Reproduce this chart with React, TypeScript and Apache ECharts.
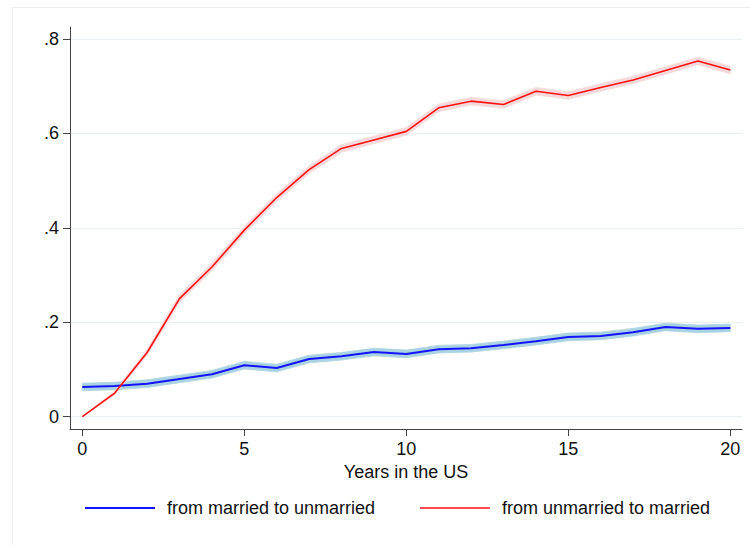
import React, { useEffect, useRef } from "react";
import * as echarts from "echarts";

const years = [0, 1, 2, 3, 4, 5, 6, 7, 8, 9, 10, 11, 12, 13, 14, 15, 16, 17, 18, 19, 20];

const blueName = "from married to unmarried";
const redName = "from unmarried to married";

const blueMean = [0.063, 0.065, 0.070, 0.080, 0.090, 0.109, 0.103, 0.122, 0.128, 0.137, 0.133, 0.143, 0.145, 0.152, 0.160, 0.169, 0.171, 0.179, 0.190, 0.186, 0.188];
const blueLow = [0.055, 0.057, 0.062, 0.072, 0.082, 0.101, 0.095, 0.114, 0.120, 0.129, 0.125, 0.135, 0.137, 0.144, 0.152, 0.161, 0.163, 0.171, 0.182, 0.178, 0.180];
const blueHigh = [0.071, 0.073, 0.078, 0.088, 0.098, 0.117, 0.111, 0.130, 0.136, 0.145, 0.141, 0.151, 0.153, 0.160, 0.168, 0.177, 0.179, 0.187, 0.198, 0.194, 0.196];

const redMean = [0.0, 0.05, 0.136, 0.25, 0.317, 0.395, 0.464, 0.523, 0.568, 0.586, 0.604, 0.654, 0.668, 0.661, 0.689, 0.680, 0.697, 0.713, 0.733, 0.753, 0.734];
const redLow = [0.0, 0.046, 0.130, 0.242, 0.309, 0.387, 0.456, 0.515, 0.560, 0.578, 0.596, 0.646, 0.660, 0.653, 0.681, 0.672, 0.689, 0.705, 0.725, 0.745, 0.726];
const redHigh = [0.0, 0.054, 0.142, 0.258, 0.325, 0.403, 0.472, 0.531, 0.576, 0.594, 0.612, 0.662, 0.676, 0.669, 0.697, 0.688, 0.705, 0.721, 0.741, 0.761, 0.742];

const xTicks = [0, 5, 10, 15, 20];
const yTicks = [0, 0.2, 0.4, 0.6, 0.8];
const yTickLabels = ["0", ".2", ".4", ".6", ".8"];
const xTitle = "Years in the US";

const FONT = "'Liberation Sans', Arial, Helvetica, sans-serif";
const BLUE = "#1414ff";
const RED = "#ff1010";

export default function App() {
  const ref = useRef<HTMLDivElement>(null);
  useEffect(() => {
    if (!ref.current) return;
    const chart = echarts.init(ref.current, undefined, { renderer: "svg" });
    const pair = (arr: number[]) => years.map((x, i) => [x, arr[i]]);

    const band = (name: string, lo: number[], hi: number[], color: string) => ({
      name,
      type: "custom",
      silent: true,
      z: 1,
      data: years.map((x, i) => [x, lo[i], hi[i]]),
      encode: { x: 0, y: [1, 2] },
      renderItem: (params: any, api: any) => {
        if (params.dataIndex !== 0) return null;
        const upper = years.map((x, i) => api.coord([x, hi[i]]));
        const lower = years.map((x, i) => api.coord([x, lo[i]])).reverse();
        return {
          type: "polygon",
          shape: { points: upper.concat(lower) },
          style: { fill: color, stroke: color, lineWidth: 0.8 },
          silent: true,
        };
      },
    });

    const legendText = { fontSize: 18, color: "#111", fontFamily: FONT, padding: [0, 0, 0, 7] };

    chart.setOption({
      animation: false,
      backgroundColor: "#ffffff",
      textStyle: { fontFamily: FONT },
      grid: { left: 70, right: 8, top: 27, bottom: 116, containLabel: false },
      graphic: [
        { type: "line", shape: { x1: 12.5, y1: 7, x2: 12.5, y2: 545 }, style: { stroke: "#eeeeee", lineWidth: 1 }, silent: true },
        { type: "line", shape: { x1: 12, y1: 7.5, x2: 750, y2: 7.5 }, style: { stroke: "#eeeeee", lineWidth: 1 }, silent: true },
      ],
      legend: [
        {
          data: [{ name: blueName, icon: "rect", itemStyle: { color: BLUE } }],
          left: 80,
          top: 494,
          itemWidth: 70,
          itemHeight: 2,
          textStyle: legendText,
          selectedMode: false,
        },
        {
          data: [{ name: redName, icon: "rect", itemStyle: { color: RED } }],
          left: 415,
          top: 494,
          itemWidth: 70,
          itemHeight: 1.6,
          textStyle: legendText,
          selectedMode: false,
        },
      ],
      xAxis: {
        type: "value",
        min: -0.38,
        max: 20.36,
        name: xTitle,
        nameLocation: "middle",
        nameGap: 30,
        nameTextStyle: { fontSize: 18, color: "#111", fontFamily: FONT },
        axisLine: { show: true, onZero: false, lineStyle: { color: "#444", width: 1 } },
        axisTick: { show: true, length: 7, customValues: xTicks, lineStyle: { color: "#444" } },
        axisLabel: { customValues: xTicks, fontSize: 18, color: "#111", margin: 11, fontFamily: FONT },
        splitLine: { show: false },
      },
      yAxis: {
        type: "value",
        min: -0.026,
        max: 0.825,
        axisLine: { show: true, onZero: false, lineStyle: { color: "#444", width: 1 } },
        axisTick: { show: true, length: 7, customValues: yTicks, lineStyle: { color: "#444" } },
        axisLabel: {
          customValues: yTicks,
          fontSize: 18,
          color: "#111",
          margin: 11,
          fontFamily: FONT,
          formatter: (v: number) => {
            const i = yTicks.findIndex((t) => Math.abs(t - v) < 1e-6);
            return i >= 0 ? yTickLabels[i] : "";
          },
        },
        splitLine: { show: false },
      },
      series: [
        {
          name: "grid",
          type: "line",
          data: [],
          silent: true,
          markLine: {
            silent: true,
            z: 0,
            symbol: "none",
            label: { show: false },
            lineStyle: { color: "#e9f0f2", width: 1, type: "solid" },
            data: yTicks.map((v) => ({ yAxis: v })),
          },
          z: 0,
        },
        band("blue_band", blueLow, blueHigh, "#a9d3e1"),
        band("red_band", redLow, redHigh, "#f4dada"),
        {
          name: blueName,
          type: "line",
          data: pair(blueMean),
          symbol: "none",
          lineStyle: { color: BLUE, width: 2 },
          itemStyle: { color: BLUE },
          z: 3,
        },
        {
          name: redName,
          type: "line",
          data: pair(redMean),
          symbol: "none",
          lineStyle: { color: RED, width: 1.6 },
          itemStyle: { color: RED },
          z: 4,
        },
      ],
    });
    return () => chart.dispose();
  }, []);
  return <div ref={ref} style={{ position: "fixed", left: 0, top: 0, width: 750, height: 545 }} />;
}
